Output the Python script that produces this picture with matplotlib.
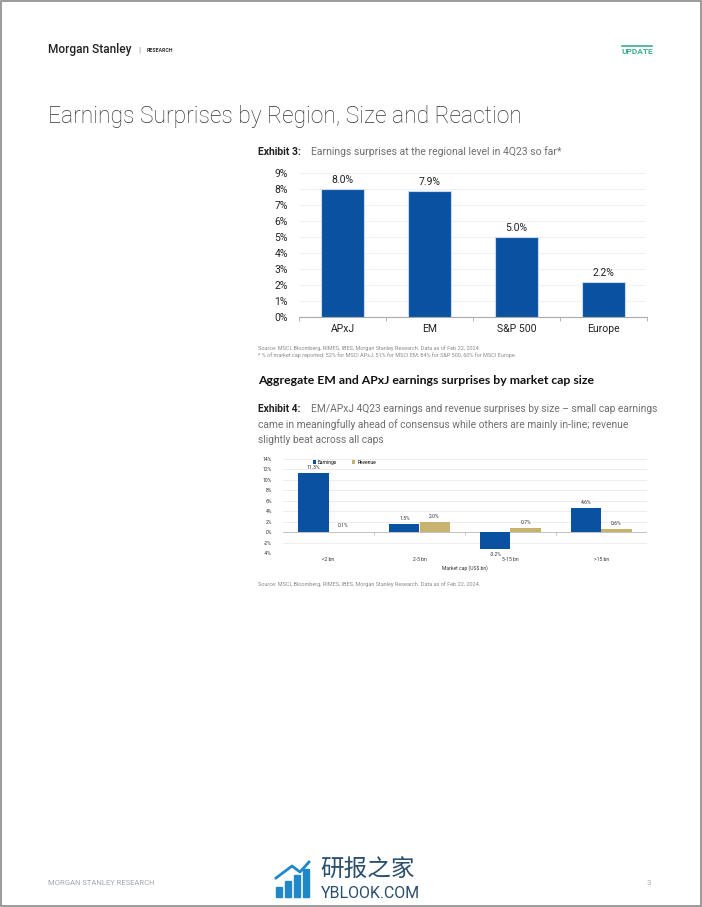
import matplotlib
matplotlib.use('Agg')
import matplotlib.pyplot as plt
from matplotlib.patches import Rectangle
import numpy as np

plt.rcParams['font.family'] = ['Roboto', 'DejaVu Sans']

# Exhibit 3 data
regions = ['APxJ', 'EM', 'S&P 500', 'Europe']
region_surprise = [8.0, 7.9, 5.0, 2.2]

# Exhibit 4 data
cap_buckets = ['<2 bn', '2-5 bn', '5-15 bn', '>15 bn']
cap_earnings = [11.3, 1.5, -3.2, 4.6]
cap_revenue = [0.1, 2.0, 0.7, 0.6]

blue = '#0A52A1'
gold = '#C8B36E'
grey_txt = '#6E6E6E'

W, H = 702, 907
fig = plt.figure(figsize=(W / 100, H / 100), dpi=100)


def px(x, y):
    return x / W, 1 - y / H


# page frame
fig.patches.append(Rectangle((0.001, 0.001), 0.998, 0.998, transform=fig.transFigure,
                             fill=False, edgecolor='#8A8A8A', lw=1.2))

# header
fig.text(*px(48, 50), 'Morgan Stanley', fontsize=8.6, va='center', ha='left',
         color='#222222', fontweight='medium')
fig.text(*px(139, 50), '|', fontsize=6, va='center', ha='center', color='#888888')
fig.text(*px(147, 50), 'RESEARCH', fontsize=3.8, va='center', color='#333333', fontweight='bold')
fig.text(*px(637, 51), 'UPDATE', fontsize=6, va='center', ha='center', color='#3BAE8E', fontweight='bold')
fig.add_artist(plt.Line2D([622 / W, 652 / W], [1 - 45.5 / H, 1 - 45.5 / H], color='#3BAE8E', lw=1.2))

fig.text(*px(48, 117), 'Earnings Surprises by Region, Size and Reaction', fontsize=16.5,
         fontweight='light', va='center', ha='left', color='#333333')

# Exhibit 3 heading
fig.text(*px(258, 152), 'Exhibit 3:', fontsize=7.5, fontweight='bold', va='center', color='#222222')
fig.text(*px(311, 152), 'Earnings surprises at the regional level in 4Q23 so far*', fontsize=7.5,
         va='center', color=grey_txt)

# ---- Exhibit 3 chart
ax1 = fig.add_axes([299 / W, 1 - 317 / H, 348 / W, 144 / H])
x1 = np.arange(len(regions))
ax1.bar(x1, region_surprise, width=0.5, color=blue, edgecolor='#C9DAEE', lw=0.8, zorder=3)
for xi, v in zip(x1, region_surprise):
    ax1.text(xi, v + 0.25, f'{v:.1f}%', ha='center', va='bottom', fontsize=7.5, color='#222222')
ax1.set_xlim(-0.5, len(regions) - 0.5)
ax1.set_ylim(0, 9)
ax1.set_yticks(range(0, 10))
ax1.set_yticklabels([f'{i}%' for i in range(0, 10)])
ax1.set_xticks(x1)
ax1.set_xticklabels(regions)
ax1.set_xticks(np.arange(-0.5, len(regions)), minor=True)
ax1.tick_params(axis='x', which='major', length=0, labelsize=7.5, pad=5, colors='#222222')
ax1.tick_params(axis='x', which='minor', length=3, color='#AAAAAA', width=0.6)
ax1.tick_params(axis='y', length=0, labelsize=7.5, pad=8, colors='#222222')
ax1.grid(axis='y', color='#E6E6E6', lw=0.6, ls=(0, (2, 1)), zorder=0)
for s in ['top', 'right', 'left']:
    ax1.spines[s].set_visible(False)
ax1.spines['bottom'].set_color('#AAAAAA')
ax1.spines['bottom'].set_linewidth(0.8)

fig.text(*px(258, 348), 'Source: MSCI, Bloomberg, RIMES, IBES, Morgan Stanley Research. Data as of Feb 22, 2024.',
         fontsize=4, va='center', color='#8A8A8A')
fig.text(*px(258, 355), '* % of market cap reported: 52% for MSCI APxJ, 51% for MSCI EM, 84% for S&P 500, 60% for MSCI Europe.',
         fontsize=4, va='center', color='#8A8A8A')

fig.text(*px(258, 380), 'Aggregate EM and APxJ earnings surprises by market cap size', fontsize=8.8,
         family=['Lato', 'DejaVu Sans'], fontweight='bold', va='center', color='#111111')

fig.text(*px(258, 409), 'Exhibit 4:', fontsize=7.4, fontweight='bold', va='center', color='#222222')
fig.text(*px(311, 409), 'EM/APxJ 4Q23 earnings and revenue surprises by size \u2013 small cap earnings',
         fontsize=7.4, va='center', color=grey_txt)
fig.text(*px(258, 425), 'came in meaningfully ahead of consensus while others are mainly in-line; revenue',
         fontsize=7.4, va='center', color=grey_txt)
fig.text(*px(258, 440), 'slightly beat across all caps', fontsize=7.4, va='center', color=grey_txt)

# ---- Exhibit 4 chart
ax2 = fig.add_axes([283 / W, 1 - 553 / H, 364 / W, 94 / H])
x2 = np.arange(len(cap_buckets))
bw = 0.33
ax2.bar(x2 - bw / 2, cap_earnings, width=bw, color=blue, zorder=3, label='Earnings')
ax2.bar(x2 + bw / 2, cap_revenue, width=bw, color=gold, zorder=3, label='Revenue')
for xi, v in zip(x2, cap_earnings):
    ax2.text(xi - bw / 2, v + (0.6 if v >= 0 else -0.6), f'{v:.1f}%', ha='center',
             va='bottom' if v >= 0 else 'top', fontsize=3.6, color='#333333')
for xi, v in zip(x2, cap_revenue):
    ax2.text(xi + bw / 2, v + 0.6, f'{v:.1f}%', ha='center', va='bottom', fontsize=3.6, color='#333333')
ax2.set_xlim(-0.5, len(cap_buckets) - 0.5)
ax2.set_ylim(-4, 14)
ax2.set_yticks(range(-4, 15, 2))
ax2.set_yticklabels([f'{i}%' for i in range(-4, 15, 2)])
ax2.tick_params(axis='y', length=0, labelsize=3.6, pad=8, colors='#333333')
ax2.set_xticks(x2)
ax2.set_xticklabels(cap_buckets)
ax2.tick_params(axis='x', length=0, labelsize=3.6, pad=3, colors='#333333')
ax2.grid(axis='y', color='#E6E6E6', lw=0.5, zorder=0)
for s in ax2.spines.values():
    s.set_visible(False)
ax2.axhline(0, color='#BBBBBB', lw=0.6, zorder=2)
for b in np.arange(0.5, len(cap_buckets) - 1):
    ax2.plot([b, b], [0, -0.5], color='#BBBBBB', lw=0.5, zorder=2)
ax2.set_xlabel('Market cap (US$ bn)', fontsize=3.6, labelpad=2, color='#333333')
ax2.legend(loc='upper left', bbox_to_anchor=(0.07, 1.04), ncol=2, fontsize=3.6, frameon=False,
           handlelength=0.6, handleheight=0.6, columnspacing=3, handletextpad=0.4)

fig.text(*px(258, 584), 'Source: MSCI, Bloomberg, RIMES, IBES, Morgan Stanley Research. Data as of Feb 22, 2024.',
         fontsize=4, va='center', color='#8A8A8A')

# footer
fig.text(*px(48, 883), 'MORGAN STANLEY RESEARCH', fontsize=5.5, va='center', color='#A0A8B0')
fig.text(*px(651, 883), '3', fontsize=5.5, va='center', ha='right', color='#A0A8B0')
logo_blue = '#1E88C8'
for i, hgt in enumerate([10, 16, 22, 28]):
    fig.patches.append(Rectangle(((276 + i * 9) / W, 1 - 897 / H), 6 / W, hgt / H,
                                 transform=fig.transFigure, color=logo_blue))
fig.add_artist(plt.Line2D([276 / W, 292 / W, 300 / W, 309 / W], [1 - 878 / H, 1 - 866 / H, 1 - 872 / H, 1 - 862 / H],
                          color=logo_blue, lw=2))
fig.text(*px(320, 869), '研报之家', fontsize=17, va='center', ha='left', color='#2A4E6E',
         family=['Noto Sans CJK SC', 'DejaVu Sans'])
fig.text(*px(321, 893), 'YBLOOK.COM', fontsize=11.5, va='center', ha='left', color='#2A4E6E')

fig.savefig('out.png', dpi=100)
